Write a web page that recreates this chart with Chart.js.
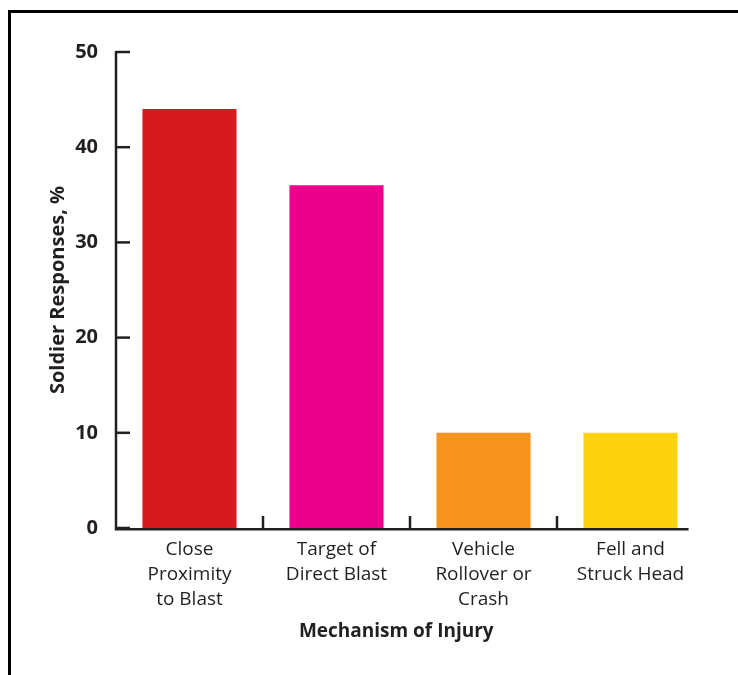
<!DOCTYPE html>
<html><head><meta charset="utf-8">
<script src="https://cdn.jsdelivr.net/npm/chart.js@4"></script>
<style>
html,body{margin:0;padding:0;background:#fff;}
#wrap{position:relative;width:738px;height:675px;}
#frame{position:absolute;left:8px;top:10px;right:0;bottom:0;border-left:3px solid #000;border-top:3px solid #000;}
canvas{position:absolute;left:0;top:0;}
</style></head>
<body><div id="wrap"><div id="frame"></div><canvas id="c" width="738" height="675"></canvas></div>
<script>
const categories = [["Close","Proximity","to Blast"],["Target of","Direct Blast"],["Vehicle","Rollover or","Crash"],["Fell and","Struck Head"]];
const values = [44, 36, 10, 10];
const colors = ["#D71920","#EC008C","#F7941D","#FDD20A"];
const yTicks = [0,10,20,30,40,50];
const xTitle = "Mechanism of Injury";
const ink = "#231F20";

const axesPlugin = {
  id:'axesDraw',
  afterDatasetsDraw(chart){
    const ctx = chart.ctx, x = chart.scales.x, y = chart.scales.y, a = chart.chartArea;
    const meta = chart.getDatasetMeta(0);
    const lastBar = meta.data[meta.data.length-1];
    const xEnd = lastBar.x + lastBar.width/2 + 11;
    ctx.save();
    ctx.strokeStyle = ink; ctx.lineWidth = 2.5; ctx.lineCap='butt';
    ctx.beginPath();
    ctx.moveTo(a.left, y.getPixelForValue(50)-1);
    ctx.lineTo(a.left, y.getPixelForValue(0)+1.2);
    ctx.lineTo(xEnd, y.getPixelForValue(0)+1.2);
    ctx.stroke();
    yTicks.forEach(v=>{
      const py = y.getPixelForValue(v);
      ctx.beginPath(); ctx.moveTo(a.left, py); ctx.lineTo(a.left+14, py); ctx.stroke();
    });
    for(let i=0;i<categories.length-1;i++){
      const px = (x.getPixelForValue(i)+x.getPixelForValue(i+1))/2;
      const py = y.getPixelForValue(0);
      ctx.beginPath(); ctx.moveTo(px, py); ctx.lineTo(px, py-12); ctx.stroke();
    }
    ctx.fillStyle = ink;
    ctx.font = "bold 19px 'Open Sans'";
    ctx.textAlign = 'center'; ctx.textBaseline = 'middle';
    ctx.fillText(xTitle, (a.left + xEnd)/2 - 6, y.getPixelForValue(0) + 104);
    ctx.restore();
  }
};

new Chart(document.getElementById('c'), {
  type:'bar',
  data:{labels:categories, datasets:[{data:values, backgroundColor:colors, borderWidth:0, categoryPercentage:0.64, barPercentage:1}]},
  options:{
    responsive:false, animation:false,
    layout:{padding:{top:52,right:34,left:46,bottom:0}},
    plugins:{legend:{display:false},tooltip:{enabled:false}},
    scales:{
      y:{min:0,max:50,
        afterFit(s){s.width=70;},
        afterBuildTicks(s){s.ticks = yTicks.map(v=>({value:v}));},
        grid:{display:false}, border:{display:false},
        ticks:{color:ink,padding:10,font:{family:"Open Sans",size:20,weight:'bold'}},
        title:{display:true,text:"Soldier Responses, %",color:ink,font:{family:"Open Sans",size:20,weight:'bold'},padding:{top:0,bottom:0}}
      },
      x:{
        afterFit(s){s.height=147;},
        grid:{display:false}, border:{display:false},
        ticks:{color:ink,padding:1,maxRotation:0,font:{family:"Open Sans",size:19,lineHeight:1.31}}
      }
    }
  },
  plugins:[axesPlugin]
});
</script></body></html>
